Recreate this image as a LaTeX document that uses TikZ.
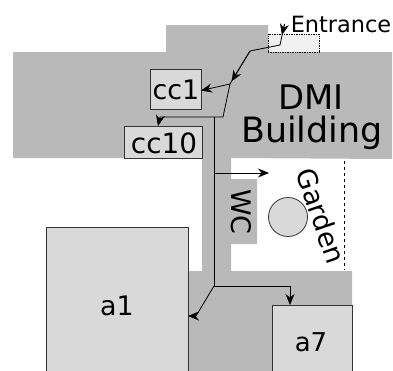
\documentclass[tikz,border=0pt]{standalone}
\usepackage{fontspec}
\setmainfont{DejaVu Sans}
\usetikzlibrary{arrows.meta,calc}
\definecolor{wall}{HTML}{B9B9B9}
\definecolor{roomfill}{HTML}{D9D9D9}
\definecolor{roomline}{HTML}{333333}
\newcommand{\fs}[1]{\fontsize{#1}{#1}\selectfont}
\tikzset{
  wallshape/.style={fill=wall,draw=none},
  room/.style={draw=roomline,fill=roomfill,line width=0.9bp,inner sep=0pt,outer sep=0pt,anchor=north west},
  route/.style={draw=black,line width=0.8bp},
  routehead/.style={route,-{Stealth[length=11bp,width=9bp,inset=3.5bp]}},
  lbl/.style={inner sep=0pt,text=black}
}
\begin{document}
\begin{tikzpicture}[x=1bp,y=-1bp]
\useasboundingbox (0,0) rectangle (393,371);
% building masses
\fill[wallshape] (13,52) -- (166,52) -- (166,25) -- (268,25) -- (268,52) -- (392,52)
  -- (392,159) -- (231,158) -- (231,179) -- (257,179) -- (257,244) -- (231,244) -- (231,271)
  -- (352,271) -- (352,345) -- (352,371) -- (188,371) -- (188,271) -- (202,271) -- (202,158) -- (13,158) -- cycle;
% rooms
\node[room,minimum width=142bp,minimum height=146bp] (a1) at (46,227) {};
\node[room,minimum width=80bp,minimum height=68bp] (a7) at (272,305) {};
\node[room,minimum width=51bp,minimum height=40bp] (cc1) at (150,69) {};
\node[room,minimum width=78bp,minimum height=32bp] (cc10) at (124.5,126) {};
\node[draw=black,densely dotted,fill=black!6,line width=0.7bp,inner sep=0pt,outer sep=0pt,anchor=north west,minimum width=51bp,minimum height=18bp] (door) at (268,34) {};
\node[circle,draw=roomline,fill=roomfill,line width=0.8bp,minimum size=39bp,inner sep=0pt] (tree) at (288,217) {};
\coordinate (fenceA) at (344,161);
\coordinate (fenceB) at (344,270);
\draw[black,dashed,line width=0.8bp] (fenceA) -- (fenceB);
% labels
\node[lbl] (tcc1) at (176,89.5) {\fs{27}cc1};
\node[lbl] (tcc10) at (164,143) {\fs{28}cc10};
\node[lbl] (ta1) at (117,306) {\fs{27}a1};
\node[lbl] (ta7) at (311,342) {\fs{26}a7};
\node[lbl] (tdmi) at (311,97) {\fs{34}DMI};
\node[lbl] (tbuild) at (312,133) {\fs{35}Building};
\node[lbl] (tent) at (341,24) {\fs{22.5}Entrance};
\node[lbl,rotate=-90] (twc) at (241,212) {\fs{27}WC};
\node[lbl,rotate=-71] (tgarden) at (321,216) {\fs{27}Garden};
% routes
\coordinate (e0) at (284.5,24);
\coordinate (e0b) at (282,35);
\coordinate (e1) at (280,45);
\coordinate (e2) at (250,51);
\coordinate (j1) at (230,84);
\coordinate (j2) at (223,117);
\coordinate (j3) at (214,117);
\coordinate (j4) at (160,117);
\coordinate (j5) at (214,173);
\coordinate (j6) at (214,286);
\coordinate (j7) at (290,286);
\coordinate (j8) at (196,316);
\draw[route] (e0) -- (e1) -- (e2) -- (j1) -- (j2) -- (j4);
\draw[routehead] (e0) -- (e0b);
\draw[routehead] (e2) -- ($(e2)!0.92!(j1)$);
\draw[routehead] (j1) -- (cc1.east |- 0,90.5);
\draw[routehead] (j4) -- (cc10.north -| 158,0);
\draw[route] (j3) -- (j6) -- (j7);
\draw[routehead] (j5) -- (269,173);
\draw[routehead] (j7) -- (a7.north -| j7);
\draw[route] (j6) -- (j8);
\draw[routehead] (j8) -- (a1.east |- j8);
\end{tikzpicture}
\end{document}
